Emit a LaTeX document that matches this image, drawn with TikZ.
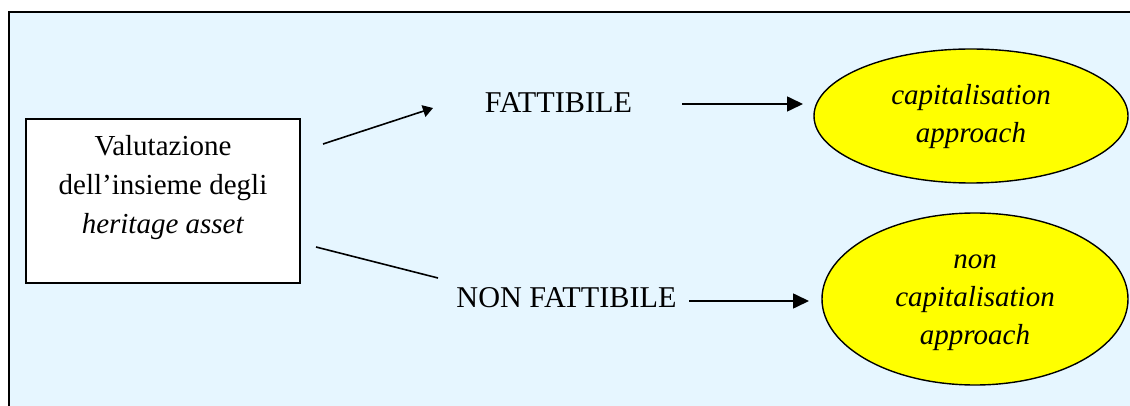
\documentclass[tikz,border=0pt]{standalone}
\usepackage{fontspec}
\setmainfont{Liberation Serif}
\usetikzlibrary{shapes.geometric,arrows.meta}
\definecolor{panelblue}{RGB}{230,246,255}
\definecolor{ovalyellow}{RGB}{255,255,0}
\tikzset{
  lbl/.style={font=\fontsize{29}{39}\selectfont, inner sep=0pt, align=center},
  outcome/.style={font=\fontsize{30.2}{39}\selectfont, inner sep=0pt},
  valbox/.style={draw=black, line width=1.7pt, fill=white, minimum width=274pt, minimum height=164pt, inner sep=0pt},
  oval/.style={ellipse, draw=black, line width=1.4pt, fill=ovalyellow, inner sep=0pt,
               font=\fontsize{29}{38}\selectfont\itshape, align=center},
  link/.style={line width=1.6pt},
  bigtip/.style={-{Triangle[length=16pt,width=15pt]}},
  smalltip/.style={-{Triangle[length=10pt,width=12pt]}}
}
\begin{document}
\begin{tikzpicture}[x=1pt,y=1pt]
  \clip (0,0) rectangle (1130,-406);
  \useasboundingbox (0,0) rectangle (1130,-406);
  % panel
  \fill[white] (0,0) rectangle (1130,-406);
  \draw[line width=1.7pt, fill=panelblue] (9,-12) rectangle (1145,-420);

  % source box
  \node[valbox] (val) at (163,-201) {};
  \node[lbl, anchor=north] (valtxt) at (163,-128)
    {\strut Valutazione\\ dell’insieme degli\\ \textit{heritage asset}};

  % outcome labels
  \node[outcome] (fat) at (558.5,-103) {FATTIBILE};
  \node[outcome] (nonfat) at (566.5,-298) {NON FATTIBILE};

  % ovals
  \node[oval, minimum width=314pt, minimum height=134pt] (cap) at (971,-116)
    {\strut capitalisation\\ approach\strut};
  \node[oval, minimum width=306pt, minimum height=172pt] (noncap) at (975,-299)
    {\strut non\\ capitalisation\\ approach\strut};

  % connector end points
  \coordinate (a1) at (323,-144);
  \coordinate (a2) at (433,-108);
  \coordinate (b1) at (316,-247);
  \coordinate (b2) at (438,-278);
  \coordinate (c1) at (682,-104);
  \coordinate (c2) at (803,-104);
  \coordinate (d1) at (689,-301);
  \coordinate (d2) at (809,-301);

  \draw[link, smalltip] (a1) -- (a2);
  \draw[link] (b1) -- (b2);
  \draw[link, bigtip] (c1) -- (c2);
  \draw[link, bigtip] (d1) -- (d2);
\end{tikzpicture}
\end{document}
